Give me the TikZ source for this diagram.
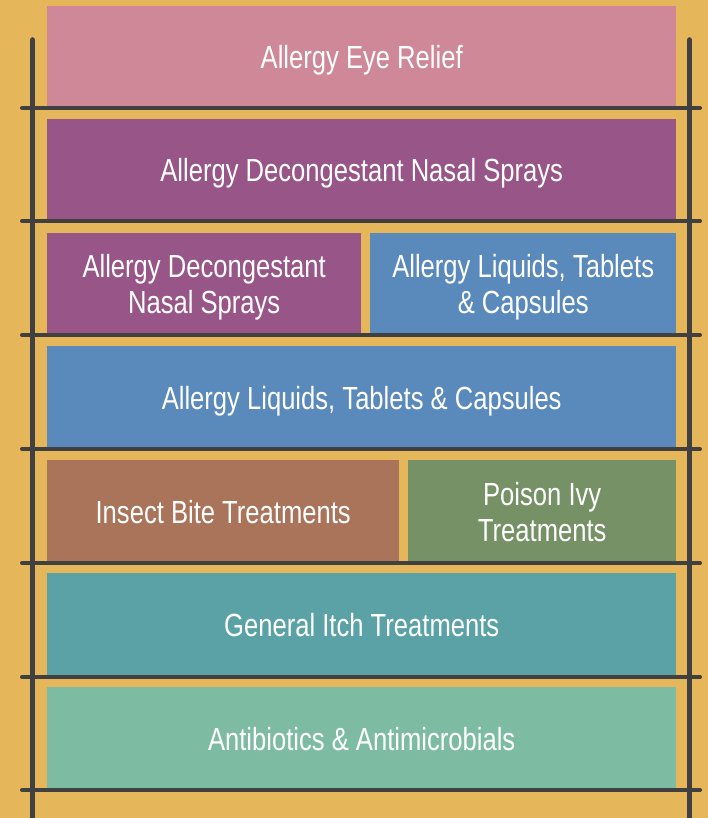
\documentclass[tikz,border=0pt]{standalone}
\usepackage{fontspec}
\setmainfont{Liberation Sans}[FakeStretch=0.8]
\usepackage{xcolor}
\usetikzlibrary{positioning}
\definecolor{shelfbg}{HTML}{E6B65A}
\definecolor{postgray}{HTML}{404040}
\definecolor{eyepink}{HTML}{CF8898}
\definecolor{nasalpurple}{HTML}{985587}
\definecolor{tabletblue}{HTML}{5A89BB}
\definecolor{bitebrown}{HTML}{A9745A}
\definecolor{ivygreen}{HTML}{759165}
\definecolor{itchteal}{HTML}{5BA2A6}
\definecolor{mintgreen}{HTML}{7DBCA3}
\tikzset{
  item/.style={anchor=north west, inner sep=0pt, align=center, text=white, text depth=0pt, minimum height=102pt, font=\fontsize{32}{36}\selectfont},
  wideitem/.style={item, minimum width=629pt},
  shelf/.style={line width=4pt, line cap=round, draw=postgray},
  post/.style={line width=5.5pt, line cap=round, draw=postgray}
}

\begin{document}
\begin{tikzpicture}[x=1pt, y=-1pt]
    \fill[shelfbg] (0,0) rectangle (708,818);
    \useasboundingbox (0,0) rectangle (708,818);

    % boxes, top to bottom
    \node[wideitem, fill=eyepink] (eye) at (47,6) {Allergy Eye Relief};
    \node[wideitem, fill=nasalpurple] (nasal) at (47,119) {Allergy Decongestant Nasal Sprays};
    \node[item, fill=nasalpurple, minimum width=314pt] (nasalsmall) at (47,233) {Allergy Decongestant\\Nasal Sprays};
    \node[item, fill=tabletblue, minimum width=306pt] (tabletsmall) at (370,233) {Allergy Liquids, Tablets\\\& Capsules};
    \node[wideitem, fill=tabletblue, minimum height=103pt] (tablets) at (47,346) {Allergy Liquids, Tablets \& Capsules};
    \node[item, fill=bitebrown, minimum width=352pt, minimum height=103pt] (bite) at (47,460) {Insect Bite Treatments};
    \node[item, fill=ivygreen, minimum width=268pt, minimum height=103pt] (ivy) at (408,460) {Poison Ivy\\Treatments};
    \node[wideitem, fill=itchteal, minimum height=104pt] (itch) at (47,573) {General Itch Treatments};
    \node[wideitem, fill=mintgreen, minimum height=103pt] (anti) at (47,687) {Antibiotics \& Antimicrobials};

    % shelves and posts
    \foreach \y in {108,221,335,449,563,677,790}
        \draw[shelf] (22,\y) -- (700,\y);
    \draw[post] (32.5,40) -- (32.5,830);
    \draw[post] (689.5,40) -- (689.5,830);
\end{tikzpicture}
\end{document}
